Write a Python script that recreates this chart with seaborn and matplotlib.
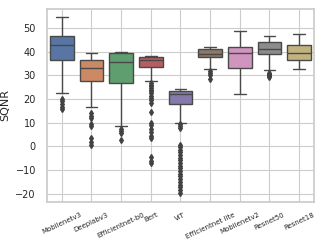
import numpy as np
import pandas as pd
import matplotlib
matplotlib.use('Agg')
import matplotlib.pyplot as plt
import seaborn as sns

# %% Data
models = ['Mobilenetv3', 'Deeplabv3', 'Efficientnet-b0', 'Bert', 'ViT',
          'Efficientnet lite', 'Mobilenetv2', 'Resnet50', 'Resnet18']

# low whisker, q1, median, q3, high whisker
whisker_lo = [22.5, 16.7, 8.8, 27.5, 10.1, 32.6, 22.3, 32.2, 32.6]
box_q1 = [36.6, 27.6, 26.8, 33.4, 18.1, 37.6, 33.3, 38.9, 36.5]
box_med = [42.8, 33.3, 35.5, 36.5, 22.2, 38.9, 39.6, 41.1, 39.6]
box_q3 = [46.6, 36.4, 39.3, 37.6, 23.6, 41.0, 42.1, 44.0, 43.0]
whisker_hi = [54.5, 39.3, 39.7, 38.2, 24.1, 42.1, 48.9, 46.5, 47.5]

outliers = [
    [20.2, 19.1, 18.0, 16.8, 15.8],
    [14.0, 13.0, 12.0, 9.5, 8.8, 3.5, 2.0, 0.5],
    [7.5, 6.5, 5.5, 2.8],
    [26.8, 26.0, 25.3, 24.6, 24.0, 23.3, 22.5, 21.5, 20.5, 19.5, 18.5,
     14.5, 10.0, 9.0, 7.5, 6.0, 4.5, 3.5, -4.5, -6.0, -7.0],
    [9.3, 8.5, 7.8, 0.8, -0.3, -1.5, -2.4, -3.6, -4.8, -5.7, -6.9, -8.1,
     -9.2, -10.4, -11.5, -12.6, -13.8, -14.9, -16.1, -17.2, -18.3, -19.5],
    [31.8, 31.0, 30.3, 28.5],
    [],
    [31.0, 30.6, 30.2, 29.8, 29.5],
    [],
]

# each quartile value is repeated so that the outliers do not move the box
block = 40

rows = []
for i, m in enumerate(models):
    vals = ([whisker_lo[i]] + [box_q1[i]] * block + [box_med[i]] * block
            + [box_q3[i]] * block + [whisker_hi[i]] + outliers[i])
    rows += [(m, v) for v in vals]
df = pd.DataFrame(rows, columns=['model', 'SQNR'])

# %% Plot
sns.set_theme(style='whitegrid')
fig = plt.figure(figsize=(3.24, 2.43), dpi=100)
ax = fig.add_axes([0.145, 0.169, 0.824, 0.794])

sns.boxplot(data=df, x='model', y='SQNR', hue='model', palette='deep',
            order=models, linewidth=1, ax=ax, legend=False,
            flierprops=dict(marker='d', markerfacecolor='.26',
                            markeredgecolor='.26', markersize=3))

ax.set_ylim(-23.4, 58)
ax.set_yticks(range(-20, 51, 10))
ax.set_xlabel('')
ax.set_ylabel('SQNR', fontsize=8)
ax.tick_params(axis='y', labelsize=7, pad=2)
ax.tick_params(axis='x', labelsize=5, pad=1)
plt.setp(ax.get_xticklabels(), rotation=25)
ax.grid(linewidth=0.8)

fig.savefig('out.png', dpi=100)
